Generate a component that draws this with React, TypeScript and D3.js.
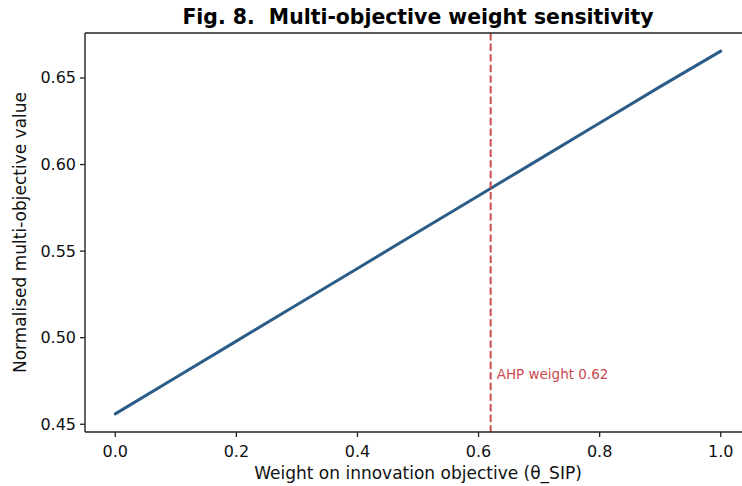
import React from "react";
import * as d3 from "d3";

const weights = [0.0, 0.1, 0.2, 0.3, 0.4, 0.5, 0.6, 0.7, 0.8, 0.9, 1.0];
const values = [0.456, 0.477, 0.498, 0.519, 0.540, 0.561, 0.582, 0.603, 0.624, 0.645, 0.6655];
const xTicks = [0.0, 0.2, 0.4, 0.6, 0.8, 1.0];
const yTicks = [0.45, 0.5, 0.55, 0.6, 0.65];
const ahpWeight = 0.62;
const title = "Fig. 8.  Multi-objective weight sensitivity";
const xLabel = "Weight on innovation objective (θ_SIP)";
const yLabel = "Normalised multi-objective value";
const annotation = "AHP weight 0.62";

const W = 742;
const H = 486;
const left = 85;
const right = 751;
const top = 33;
const bottom = 432;
const font = "'DejaVu Sans', sans-serif";

export default function App() {
  const xmin = d3.min(weights)!;
  const xmax = d3.max(weights)!;
  const ymin = d3.min(values)!;
  const ymax = d3.max(values)!;
  const xm = (xmax - xmin) * 0.05;
  const ym = (ymax - ymin) * 0.05;
  const x = d3.scaleLinear().domain([xmin - xm, xmax + xm]).range([left, right]);
  const y = d3.scaleLinear().domain([ymin - ym, ymax + ym]).range([bottom, top]);
  const line = d3
    .line<number>()
    .x((_, i) => x(weights[i]))
    .y((d) => y(d));

  return (
    <svg
      width={W}
      height={H}
      style={{ position: "absolute", left: 0, top: 0, background: "#fff", overflow: "hidden" }}
      fontFamily={font}
    >
      <defs>
        <clipPath id="plot">
          <rect x={left} y={top} width={right - left} height={bottom - top} />
        </clipPath>
      </defs>
      <g clipPath="url(#plot)">
        <path d={line(values) || ""} fill="none" stroke="#2c5d88" strokeWidth={3} strokeLinecap="round" />
        <line
          x1={x(ahpWeight)}
          x2={x(ahpWeight)}
          y1={top}
          y2={bottom}
          stroke="#c93a3f"
          strokeWidth={2}
          strokeDasharray="7.4,3.2"
          opacity={0.9}
        />
      </g>
      <text x={x(ahpWeight) + 6} y={379} fontSize={13.5} fill="#c94a4f">
        {annotation}
      </text>
      {/* spines */}
      <line x1={left} x2={left} y1={top} y2={bottom} stroke="#222" strokeWidth={1.4} />
      <line x1={left} x2={right} y1={top} y2={top} stroke="#222" strokeWidth={1.4} />
      <line x1={left} x2={right} y1={bottom} y2={bottom} stroke="#222" strokeWidth={1.4} />
      <line x1={right} x2={right} y1={top} y2={bottom} stroke="#222" strokeWidth={1.4} />
      {xTicks.map((t) => (
        <g key={"x" + t}>
          <line x1={x(t)} x2={x(t)} y1={bottom} y2={bottom + 5} stroke="#222" strokeWidth={1.3} />
          <text x={x(t)} y={457} fontSize={16} textAnchor="middle" fill="#111">
            {t.toFixed(1)}
          </text>
        </g>
      ))}
      {yTicks.map((t) => (
        <g key={"y" + t}>
          <line x1={left - 5} x2={left} y1={y(t)} y2={y(t)} stroke="#222" strokeWidth={1.3} />
          <text x={left - 9} y={y(t)} fontSize={16} textAnchor="end" dominantBaseline="central" fill="#111">
            {t.toFixed(2)}
          </text>
        </g>
      ))}
      <text x={(left + right) / 2} y={479} fontSize={17} textAnchor="middle" fill="#111">
        {xLabel}
      </text>
      <text
        transform={`translate(26,${(top + bottom) / 2}) rotate(-90)`}
        fontSize={17}
        textAnchor="middle"
        fill="#111"
      >
        {yLabel}
      </text>
      <text
        x={(left + right) / 2}
        y={24}
        fontSize={20.4}
        fontWeight="bold"
        textAnchor="middle"
        fill="#000"
        style={{ whiteSpace: "pre" }}
        xmlSpace="preserve"
      >
        {title}
      </text>
    </svg>
  );
}
